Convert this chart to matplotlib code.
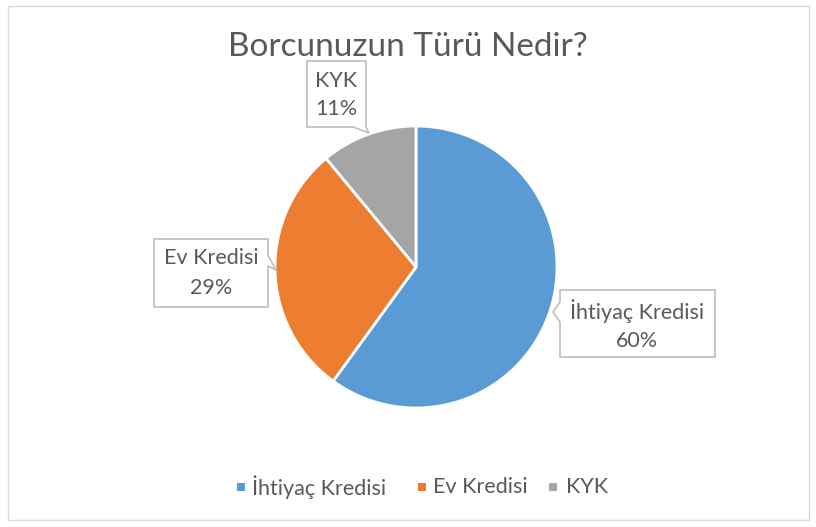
import matplotlib
matplotlib.use("Agg")
import matplotlib.pyplot as plt
from matplotlib.patches import Polygon, Rectangle

categories = ["İhtiyaç Kredisi", "Ev Kredisi", "KYK"]
values = [60, 29, 11]
pct_labels = ["60%", "29%", "11%"]
colors = ["#5B9BD5", "#ED7D31", "#A5A5A5"]
title = "Borcunuzun Türü Nedir?"

W, H = 816, 527
FONT = ["Lato", "DejaVu Sans"]
TXT = "#595959"
FS = 15.5

fig = plt.figure(figsize=(W / 100, H / 100), dpi=100)

# overlay axes in pixel coords (y down)
ov = fig.add_axes([0, 0, 1, 1])
ov.set_xlim(0, W)
ov.set_ylim(H, 0)
ov.axis("off")
ov.add_patch(Rectangle((7.5, 5.5), 801, 514, fill=False, ec="#D9D9D9", lw=1))

# pie axes
cx, cy, r = 416, 267, 141
pa = fig.add_axes([(cx - r) / W, (H - cy - r) / H, 2 * r / W, 2 * r / H])
wedges, _ = pa.pie(values, colors=colors, startangle=90, counterclock=False,
                   radius=1, wedgeprops=dict(edgecolor="white", linewidth=2))
pa.set_xlim(-1, 1)
pa.set_ylim(-1, 1)
pa.axis("off")

ov.set_zorder(pa.get_zorder() + 1)
ov.patch.set_alpha(0)

ov.text(W / 2, 47, title, ha="center", va="center", fontsize=24, color=TXT, family=FONT)

box_ec = "#BFBFBF"

def callout(pts):
    ov.add_patch(Polygon(pts, closed=True, fc="white", ec=box_ec, lw=1.2))

# KYK
l, t, rr, b = 307, 61, 366, 127
callout([(l, t), (rr, t), (rr, b), (369, 133), (353, b), (l, b)])
# Ev Kredisi
l, t, rr, b = 154, 239, 268, 307
callout([(l, t), (rr, t), (rr, 255), (276, 270), (rr, 266), (rr, b), (l, b)])
# İhtiyaç
l, t, rr, b = 560, 290, 715, 357
callout([(l, t), (rr, t), (rr, b), (l, b), (l, 322), (553, 312), (l, 302)])

label_pos = {0: (637, 311, 341), 1: (211, 258, 288), 2: (336, 81, 109)}
for i, (cat, p) in enumerate(zip(categories, pct_labels)):
    x, y1, y2 = label_pos[i]
    ov.text(x, y1, cat, ha="center", va="center", fontsize=FS, color=TXT, family=FONT)
    ov.text(x, y2, p, ha="center", va="center", fontsize=FS, color=TXT, family=FONT)

# legend
mark_x = [241, 422, 553]
text_x = [252, 433, 566]
for i, cat in enumerate(categories):
    ov.add_patch(Rectangle((mark_x[i] - 4, 483), 8, 8, fc=colors[i], ec="none"))
    ov.text(text_x[i], 487, cat, ha="left", va="center", fontsize=FS, color=TXT, family=FONT)

fig.savefig("out.png", dpi=100)
